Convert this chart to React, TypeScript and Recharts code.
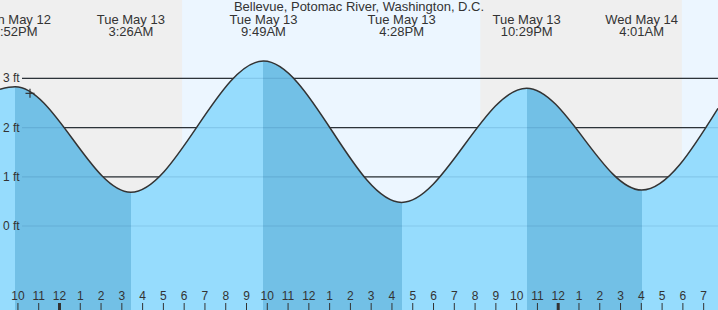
import {
  ComposedChart,
  Area,
  Line,
  Scatter,
  XAxis,
  YAxis,
  CartesianGrid,
  ReferenceArea,
} from 'recharts'

// hours are counted from midnight, Tue May 13
const X_MIN = -2.863
const X_MAX = 31.69
const Y_MIN = -1.706
const Y_MAX = 4.591

const TIDE_HOURS = [X_MIN, -2.133, 3.433, 9.817, 16.467, 22.483, 28.017, X_MAX]
const TIDE_FT = [2.78, 2.83, 0.685, 3.35, 0.48, 2.8, 0.73, 2.39]

const EXTREME_HOURS = [-2.133, 3.433, 9.817, 16.467, 22.483, 28.017]
const EXTREME_DAYS = ['Mon May 12', 'Tue May 13', 'Tue May 13', 'Tue May 13', 'Tue May 13', 'Wed May 14']
const EXTREME_TIMES = ['9:52PM', '3:26AM', '9:49AM', '4:28PM', '10:29PM', '4:01AM']

// falling tide (high -> low) gets the darker fill
const FALLING = [
  [-2.133, 3.433],
  [9.817, 16.467],
  [22.483, 28.017],
]
const DAYLIGHT = [
  [5.9, 20.25],
  [29.95, X_MAX],
]

const HOUR_TICKS = [
  -2, -1, 0, 1, 2, 3, 4, 5, 6, 7, 8, 9, 10, 11, 12, 13, 14, 15, 16, 17, 18, 19, 20, 21, 22, 23, 24,
  25, 26, 27, 28, 29, 30, 31,
]
const HOUR_LABELS = [
  '10', '11', '12',
  '1', '2', '3', '4', '5', '6', '7', '8', '9', '10', '11', '12',
  '1', '2', '3', '4', '5', '6', '7', '8', '9', '10', '11', '12',
  '1', '2', '3', '4', '5', '6', '7',
]
const FT_TICKS = [0, 1, 2, 3]
const NOW = [{ h: -1.42, v: 2.695 }]

const TITLE = 'Bellevue, Potomac River, Washington, D.C.'

const W = 718
const H = 310
const FONT = '"Liberation Sans", Arial, sans-serif'
const TEXT = '#333'
const NIGHT_BG = '#efefef'
const DAY_BG = '#ecf6ff'
const FILL_LIGHT = '#96dcfd'
const FILL_DARK = '#72c0e6'

const tide = TIDE_HOURS.map((h, i) => ({ h, v: TIDE_FT[i] }))

const frac = (h: number) => (h - X_MIN) / (X_MAX - X_MIN)

function fillStops() {
  const stops: [number, string][] = [[0, FILL_LIGHT]]
  FALLING.forEach(([a, b]) => {
    stops.push([frac(a), FILL_LIGHT], [frac(a), FILL_DARK], [frac(b), FILL_DARK], [frac(b), FILL_LIGHT])
  })
  stops.push([1, FILL_LIGHT])
  return stops
}

function HourTick(props: any) {
  const { x, payload } = props
  const i = HOUR_TICKS.indexOf(payload.value)
  const midnight = payload.value % 24 === 0
  return (
    <g>
      <text x={x} y={H - 10} textAnchor="middle" fontSize={12} fill={TEXT} fontFamily={FONT}>
        {HOUR_LABELS[i]}
      </text>
      <line x1={x} x2={x} y1={H - 7} y2={H} stroke={TEXT} strokeWidth={midnight ? 3 : 1} />
    </g>
  )
}

function ExtremeTick(props: any) {
  const { x, payload } = props
  const i = EXTREME_HOURS.indexOf(payload.value)
  return (
    <g fontSize={13} fill={TEXT} fontFamily={FONT} textAnchor="middle">
      <text x={x} y={24}>{EXTREME_DAYS[i]}</text>
      <text x={x} y={36}>{EXTREME_TIMES[i]}</text>
    </g>
  )
}

function FtTick(props: any) {
  const { y, payload } = props
  return (
    <text x={3} y={y + 4} fontSize={12} fill={TEXT} fontFamily={FONT}>
      {`${payload.value} ft`}
    </text>
  )
}

function Cross(props: any) {
  const { cx, cy } = props
  return (
    <g stroke={TEXT} strokeWidth={1.2}>
      <line x1={cx - 4.5} x2={cx + 4.5} y1={cy} y2={cy} />
      <line x1={cx} x2={cx} y1={cy - 4.5} y2={cy + 4.5} />
    </g>
  )
}

export default function App() {
  return (
    <div style={{ position: 'relative', width: W, height: H, background: NIGHT_BG, fontFamily: FONT }}>
      <style>{'body { margin: 0; }'}</style>
      <ComposedChart
        width={W}
        height={H}
        data={tide}
        margin={{ top: 0, right: 0, bottom: 0, left: 0 }}
      >
        <defs>
          <linearGradient id="tideFill" x1="0" y1="0" x2="1" y2="0">
            {fillStops().map(([o, c], i) => (
              <stop key={i} offset={o} stopColor={c} />
            ))}
          </linearGradient>
        </defs>
        {DAYLIGHT.map(([a, b]) => (
          <ReferenceArea
            key={a}
            x1={a}
            x2={b}
            fill={DAY_BG}
            fillOpacity={1}
            stroke="none"
            ifOverflow="extendDomain"
            zIndex={-200}
          />
        ))}
        <CartesianGrid
          x={22}
          width={W - 22}
          vertical={false}
          horizontalValues={FT_TICKS}
          stroke="#333"
          strokeWidth={1.2}
        />
        <XAxis
          dataKey="h"
          type="number"
          domain={[X_MIN, X_MAX]}
          allowDataOverflow
          ticks={HOUR_TICKS}
          interval={0}
          mirror
          height={1}
          axisLine={false}
          tickLine={false}
          tick={<HourTick />}
          zIndex={500}
        />
        <XAxis
          xAxisId="top"
          dataKey="h"
          type="number"
          orientation="top"
          domain={[X_MIN, X_MAX]}
          allowDataOverflow
          ticks={EXTREME_HOURS}
          interval={0}
          mirror
          height={1}
          axisLine={false}
          tickLine={false}
          tick={<ExtremeTick />}
          zIndex={500}
        />
        <YAxis
          type="number"
          domain={[Y_MIN, Y_MAX]}
          allowDataOverflow
          ticks={FT_TICKS}
          interval={0}
          mirror
          width={1}
          axisLine={false}
          tickLine={false}
          tick={<FtTick />}
          zIndex={500}
        />
        <Area
          type="monotone"
          dataKey="v"
          baseValue="dataMin"
          stroke="none"
          fill="url(#tideFill)"
          fillOpacity={1}
          dot={false}
          activeDot={false}
          isAnimationActive={false}
        />
        <CartesianGrid
          x={22}
          width={W - 22}
          vertical={false}
          horizontalValues={FT_TICKS}
          stroke="rgba(0, 60, 110, 0.12)"
          strokeWidth={1.2}
          zIndex={150}
        />
        <Line
          type="monotone"
          dataKey="v"
          stroke="#333"
          strokeWidth={1.5}
          dot={false}
          activeDot={false}
          isAnimationActive={false}
        />
        <Scatter data={NOW} dataKey="v" shape={<Cross />} isAnimationActive={false} />
      </ComposedChart>
      <div
        style={{
          position: 'absolute',
          top: 0,
          left: 0,
          width: W,
          textAlign: 'center',
          fontSize: 13,
          lineHeight: '13px',
          color: TEXT,
        }}
      >
        {TITLE}
      </div>
    </div>
  )
}
